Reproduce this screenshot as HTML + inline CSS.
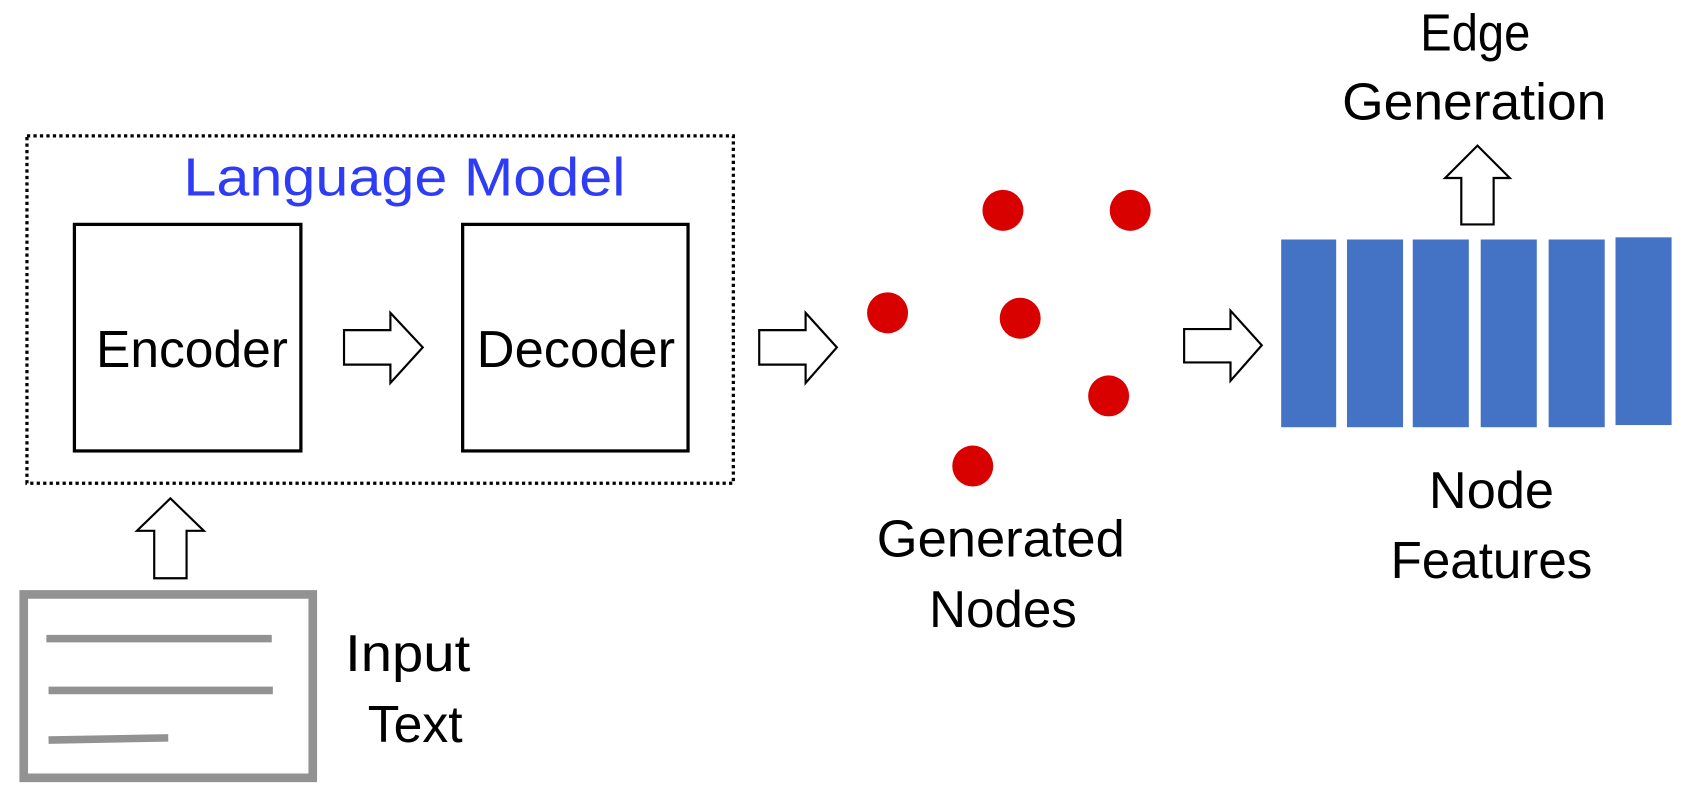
<!DOCTYPE html>
<html><head><style>html,body{margin:0;padding:0;background:#fff;}svg{display:block}</style></head>
<body>
<svg width="1691" height="794" viewBox="0 0 1568 736" preserveAspectRatio="none" xmlns="http://www.w3.org/2000/svg" font-family="Liberation Sans, sans-serif">
<rect x="25" y="126" width="655" height="322" fill="none" stroke="#000" stroke-width="3" stroke-dasharray="3,3"/>
<text x="375" y="181" font-size="50" fill="#2f3cf5" text-anchor="middle" textLength="410" lengthAdjust="spacingAndGlyphs">Language Model</text>
<rect x="69" y="208" width="210" height="210" fill="none" stroke="#000" stroke-width="3"/>
<rect x="429" y="208" width="209" height="210" fill="none" stroke="#000" stroke-width="3"/>
<text x="178" y="340" font-size="48" text-anchor="middle" textLength="178" lengthAdjust="spacingAndGlyphs">Encoder</text>
<text x="534" y="340" font-size="48" text-anchor="middle" textLength="184" lengthAdjust="spacingAndGlyphs">Decoder</text>
<g fill="#fff" stroke="#000" stroke-width="2">
<polygon points="319,306 362,306 362,290 392,322 362,355 362,338 319,338"/>
<polygon points="704,306 747,306 747,290 776,322 747,355 747,338 704,338"/>
<polygon points="1098,305 1141,305 1141,288 1170,320 1141,353 1141,336 1098,336"/>
<polygon points="143,536 143,492 127,492 158,462 189,492 173,492 173,536"/>
<polygon points="1355,208 1355,165 1340,165 1370,135 1400,165 1385,165 1385,208"/>
</g>
<rect x="22" y="551" width="268" height="170" fill="none" stroke="#929292" stroke-width="8"/>
<line x1="43" y1="592" x2="252" y2="592" stroke="#929292" stroke-width="7"/>
<line x1="45" y1="640" x2="253" y2="640" stroke="#929292" stroke-width="7"/>
<line x1="45" y1="686" x2="156" y2="684" stroke="#929292" stroke-width="7"/>
<text x="378" y="622" font-size="48" text-anchor="middle" textLength="116" lengthAdjust="spacingAndGlyphs">Input</text>
<text x="385" y="688" font-size="48" text-anchor="middle" textLength="88" lengthAdjust="spacingAndGlyphs">Text</text>
<g fill="#d90000">
<circle cx="930" cy="195" r="19"/><circle cx="1048" cy="195" r="19"/>
<circle cx="823" cy="290" r="19"/><circle cx="946" cy="295" r="19"/>
<circle cx="1028" cy="367" r="19"/><circle cx="902" cy="432" r="19"/>
</g>
<text x="928" y="516" font-size="48" text-anchor="middle" textLength="230" lengthAdjust="spacingAndGlyphs">Generated</text>
<text x="930" y="581" font-size="48" text-anchor="middle" textLength="137" lengthAdjust="spacingAndGlyphs">Nodes</text>
<g fill="#4472c4">
<rect x="1188" y="222" width="51" height="174"/><rect x="1249" y="222" width="52" height="174"/>
<rect x="1310" y="222" width="52" height="174"/><rect x="1373" y="222" width="52" height="174"/>
<rect x="1436" y="222" width="52" height="174"/><rect x="1498" y="220" width="52" height="174"/>
</g>
<text x="1383" y="471" font-size="48" text-anchor="middle" textLength="116" lengthAdjust="spacingAndGlyphs">Node</text>
<text x="1383" y="536" font-size="48" text-anchor="middle" textLength="187" lengthAdjust="spacingAndGlyphs">Features</text>
<text x="1368" y="47" font-size="48" text-anchor="middle" textLength="102" lengthAdjust="spacingAndGlyphs">Edge</text>
<text x="1367" y="111" font-size="48" text-anchor="middle" textLength="245" lengthAdjust="spacingAndGlyphs">Generation</text>
</svg>
</body></html>
